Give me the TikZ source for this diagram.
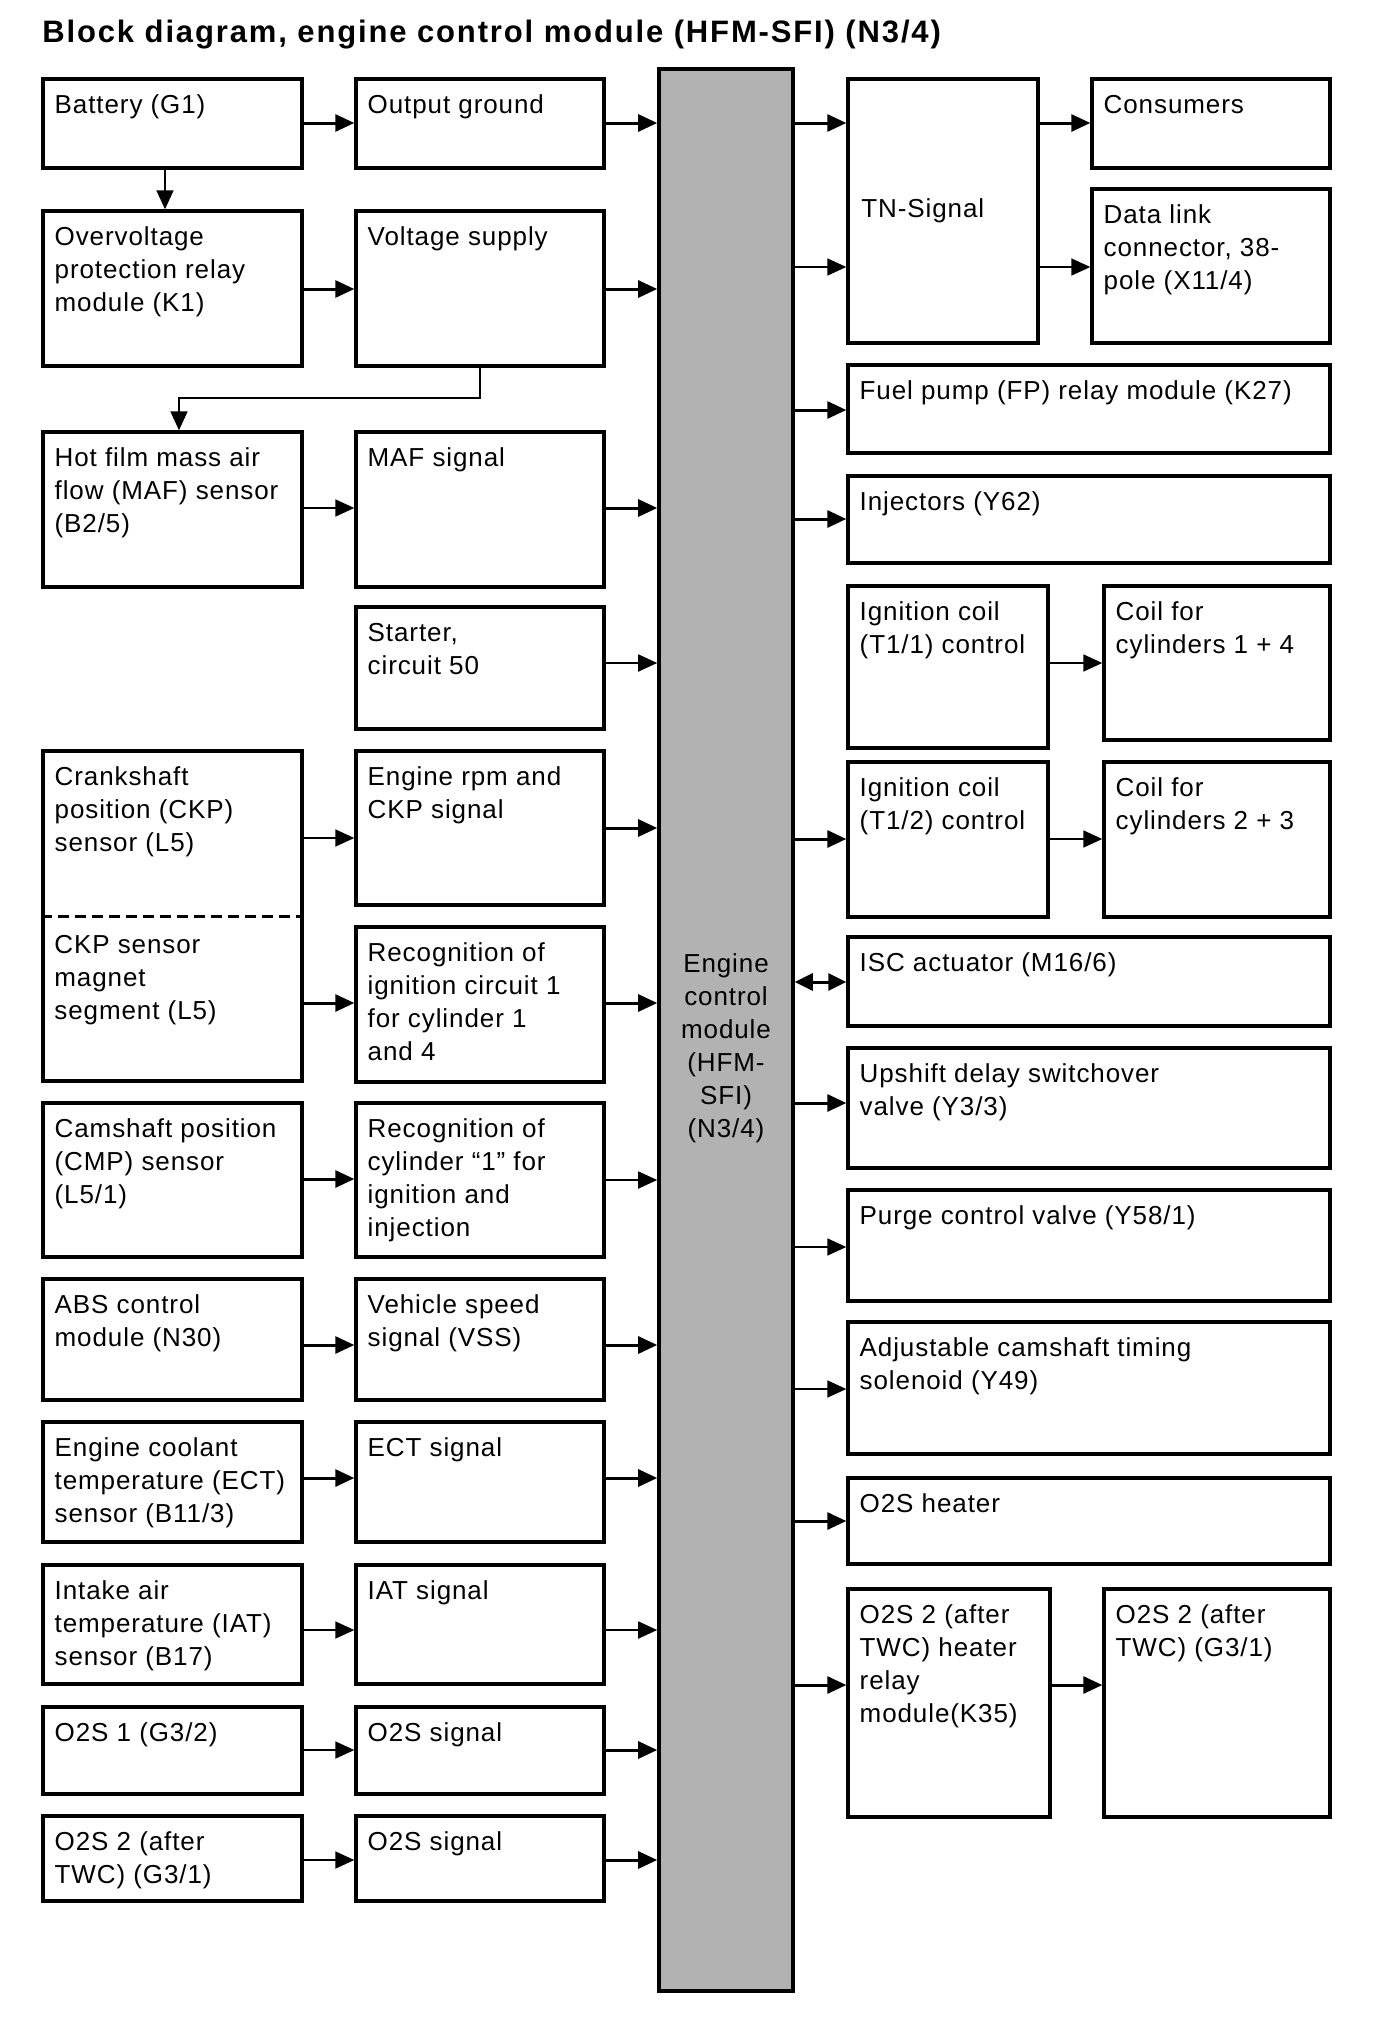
\documentclass[tikz,border=0pt]{standalone}
\usepackage{fontspec}
\setmainfont{Liberation Sans}[LetterSpace=3.5]
\usetikzlibrary{arrows.meta,fit}

\newcommand\bx[6]{%
  \node[blk, fit={(#2,#3) (#4,#5)}] (#1) {};
  \node[lbl] (#1-t) at ([shift={(6.5pt,-6.45pt)}]#1.north west) {\strut #6};
}
\newcommand\hA[4][arr]{\draw[#1] (#2.east |- 0,#4) -- (#3.west |- 0,#4);}

\begin{document}
\begin{tikzpicture}[x=0.5pt,y=-0.5pt,
  blk/.style={draw, line width=1.7pt, inner sep=0pt},
  lbl/.style={anchor=north west, inner sep=0pt, align=left, font=\fontsize{13}{16.5}\selectfont},
  arr/.style={line width=1.5pt, -{Triangle[length=9.5pt,width=8.5pt]}},
  arrt/.style={line width=0.9pt, -{Triangle[length=9.5pt,width=8.5pt]}},
  darr/.style={line width=1.5pt, {Triangle[length=9pt,width=8.5pt]}-{Triangle[length=9pt,width=8.5pt]}}
]
\useasboundingbox (0,0) rectangle (1376,2018);
\fill[white] (0,0) rectangle (1376,2018);

% title
\node[anchor=base west, inner sep=0pt, font=\bfseries\fontsize{15.5}{18}\selectfont\addfontfeature{LetterSpace=6}] (title) at (42,42) {Block diagram, engine control module (HFM-SFI) (N3/4)};

% ECM
\node[draw, line width=1.8pt, fill=black!30, inner sep=0pt, fit={(659,69) (793,1991)}] (ecm) {};
\node[lbl, anchor=north, align=center] (ecm-t) at (726,949) {\strut Engine\\control\\module\\(HFM-\\SFI)\\(N3/4)};

% left column
\bx{bat}{43}{79}{302}{168}{Battery (G1)}
\bx{ovp}{43}{211}{302}{366}{Overvoltage\\protection relay\\module (K1)}
\bx{maf}{43}{432}{302}{587}{Hot film mass air\\flow (MAF) sensor\\(B2/5)}
\node[blk, fit={(43,751) (302,1081)}] (ckp) {};
\node[lbl] (ckp-t) at ([shift={(6.5pt,-6.45pt)}]ckp.north west) {\strut Crankshaft\\position (CKP)\\sensor (L5)};
\draw[line width=1.5pt, dash pattern=on 5.5pt off 3pt] (ckp.west |- 0,916) -- (ckp.east |- 0,916);
\node[lbl] (seg-t) at (54,930) {\strut CKP sensor\\magnet\\segment (L5)};
\bx{cmp}{43}{1103}{302}{1257}{Camshaft position\\(CMP) sensor\\(L5/1)}
\bx{abs}{43}{1279}{302}{1400}{ABS control\\module (N30)}
\bx{ect}{43}{1422}{302}{1542}{Engine coolant\\temperature (ECT)\\sensor (B11/3)}
\bx{iat}{43}{1565}{302}{1684}{Intake air\\temperature (IAT)\\sensor (B17)}
\bx{osa}{43}{1707}{302}{1794}{O2S 1 (G3/2)}
\bx{osb}{43}{1816}{302}{1901}{O2S 2 (after\\TWC) (G3/1)}

% middle column
\bx{outg}{356}{79}{604}{168}{Output ground}
\bx{vs}{356}{211}{604}{366}{Voltage supply}
\bx{mafs}{356}{432}{604}{587}{MAF signal}
\bx{start}{356}{607}{604}{729}{Starter,\\circuit 50}
\bx{rpm}{356}{751}{604}{905}{Engine rpm and\\CKP signal}
\bx{reca}{356}{927}{604}{1082}{Recognition of\\ignition circuit 1\\for cylinder 1\\and 4}
\bx{recb}{356}{1103}{604}{1257}{Recognition of\\cylinder “1” for\\ignition and\\injection}
\bx{vss}{356}{1279}{604}{1400}{Vehicle speed\\signal (VSS)}
\bx{ects}{356}{1422}{604}{1542}{ECT signal}
\bx{iats}{356}{1565}{604}{1684}{IAT signal}
\bx{ossa}{356}{1707}{604}{1794}{O2S signal}
\bx{ossb}{356}{1816}{604}{1901}{O2S signal}

% right side
\node[blk, fit={(848,79) (1038,343)}] (tn) {};
\node[lbl] (tn-t) at (861,194) {\strut TN-Signal};
\bx{cons}{1092}{79}{1330}{168}{Consumers}
\bx{dlc}{1092}{189}{1330}{343}{Data link\\connector, 38-\\pole (X11/4)}
\bx{fp}{848}{365}{1330}{453}{Fuel pump (FP) relay module (K27)}
\bx{inj}{848}{476}{1330}{563}{Injectors (Y62)}
\bx{igna}{848}{586}{1048}{748}{Ignition coil\\(T1/1) control}
\bx{coila}{1104}{586}{1330}{740}{Coil for\\cylinders 1 + 4}
\bx{ignb}{848}{762}{1048}{917}{Ignition coil\\(T1/2) control}
\bx{coilb}{1104}{762}{1330}{917}{Coil for\\cylinders 2 + 3}
\bx{isc}{848}{937}{1330}{1026}{ISC actuator (M16/6)}
\bx{ups}{848}{1048}{1330}{1168}{Upshift delay switchover\\valve (Y3/3)}
\bx{purge}{848}{1190}{1330}{1301}{Purge control valve (Y58/1)}
\bx{acam}{848}{1322}{1330}{1454}{Adjustable camshaft timing\\solenoid (Y49)}
\bx{oshe}{848}{1478}{1330}{1564}{O2S heater}
\bx{rel}{848}{1589}{1050}{1817}{O2S 2 (after\\TWC) heater\\relay\\module(K35)}
\bx{osg}{1104}{1589}{1330}{1817}{O2S 2 (after\\TWC) (G3/1)}

% connectors, left
\hA{bat}{outg}{123}
\hA{outg}{ecm}{123}
\draw[arrt] (bat.south -| 165,0) -- (ovp.north -| 165,0);
\hA{ovp}{vs}{289}
\hA{vs}{ecm}{289}
\coordinate (bend) at (179,398);
\draw[arrt] (vs.south) |- (bend) -- (maf.north -| bend);
\hA[arrt]{maf}{mafs}{508}
\hA{mafs}{ecm}{508}
\hA[arrt]{start}{ecm}{663}
\hA[arrt]{ckp}{rpm}{838}
\hA{rpm}{ecm}{828}
\hA{ckp}{reca}{1003}
\hA{reca}{ecm}{1003}
\hA{cmp}{recb}{1179}
\hA[arrt]{recb}{ecm}{1180}
\hA{abs}{vss}{1345}
\hA{vss}{ecm}{1345}
\hA{ect}{ects}{1478}
\hA{ects}{ecm}{1478}
\hA[arrt]{iat}{iats}{1630}
\hA[arrt]{iats}{ecm}{1630}
\hA[arrt]{osa}{ossa}{1750}
\hA{ossa}{ecm}{1750}
\hA[arrt]{osb}{ossb}{1860}
\hA{ossb}{ecm}{1860}

% connectors, right
\hA{ecm}{tn}{123}
\hA[arrt]{ecm}{tn}{267}
\hA{tn}{cons}{123}
\hA[arrt]{tn}{dlc}{267}
\hA{ecm}{fp}{410}
\hA{ecm}{inj}{519}
\hA[arrt]{igna}{coila}{663}
\hA{ecm}{ignb}{839}
\hA[arrt]{ignb}{coilb}{839}
\hA[darr]{ecm}{isc}{982}
\hA{ecm}{ups}{1103}
\hA[arrt]{ecm}{purge}{1247}
\hA[arrt]{ecm}{acam}{1389}
\hA{ecm}{oshe}{1521}
\hA{ecm}{rel}{1685}
\hA{rel}{osg}{1685}
\end{tikzpicture}
\end{document}
